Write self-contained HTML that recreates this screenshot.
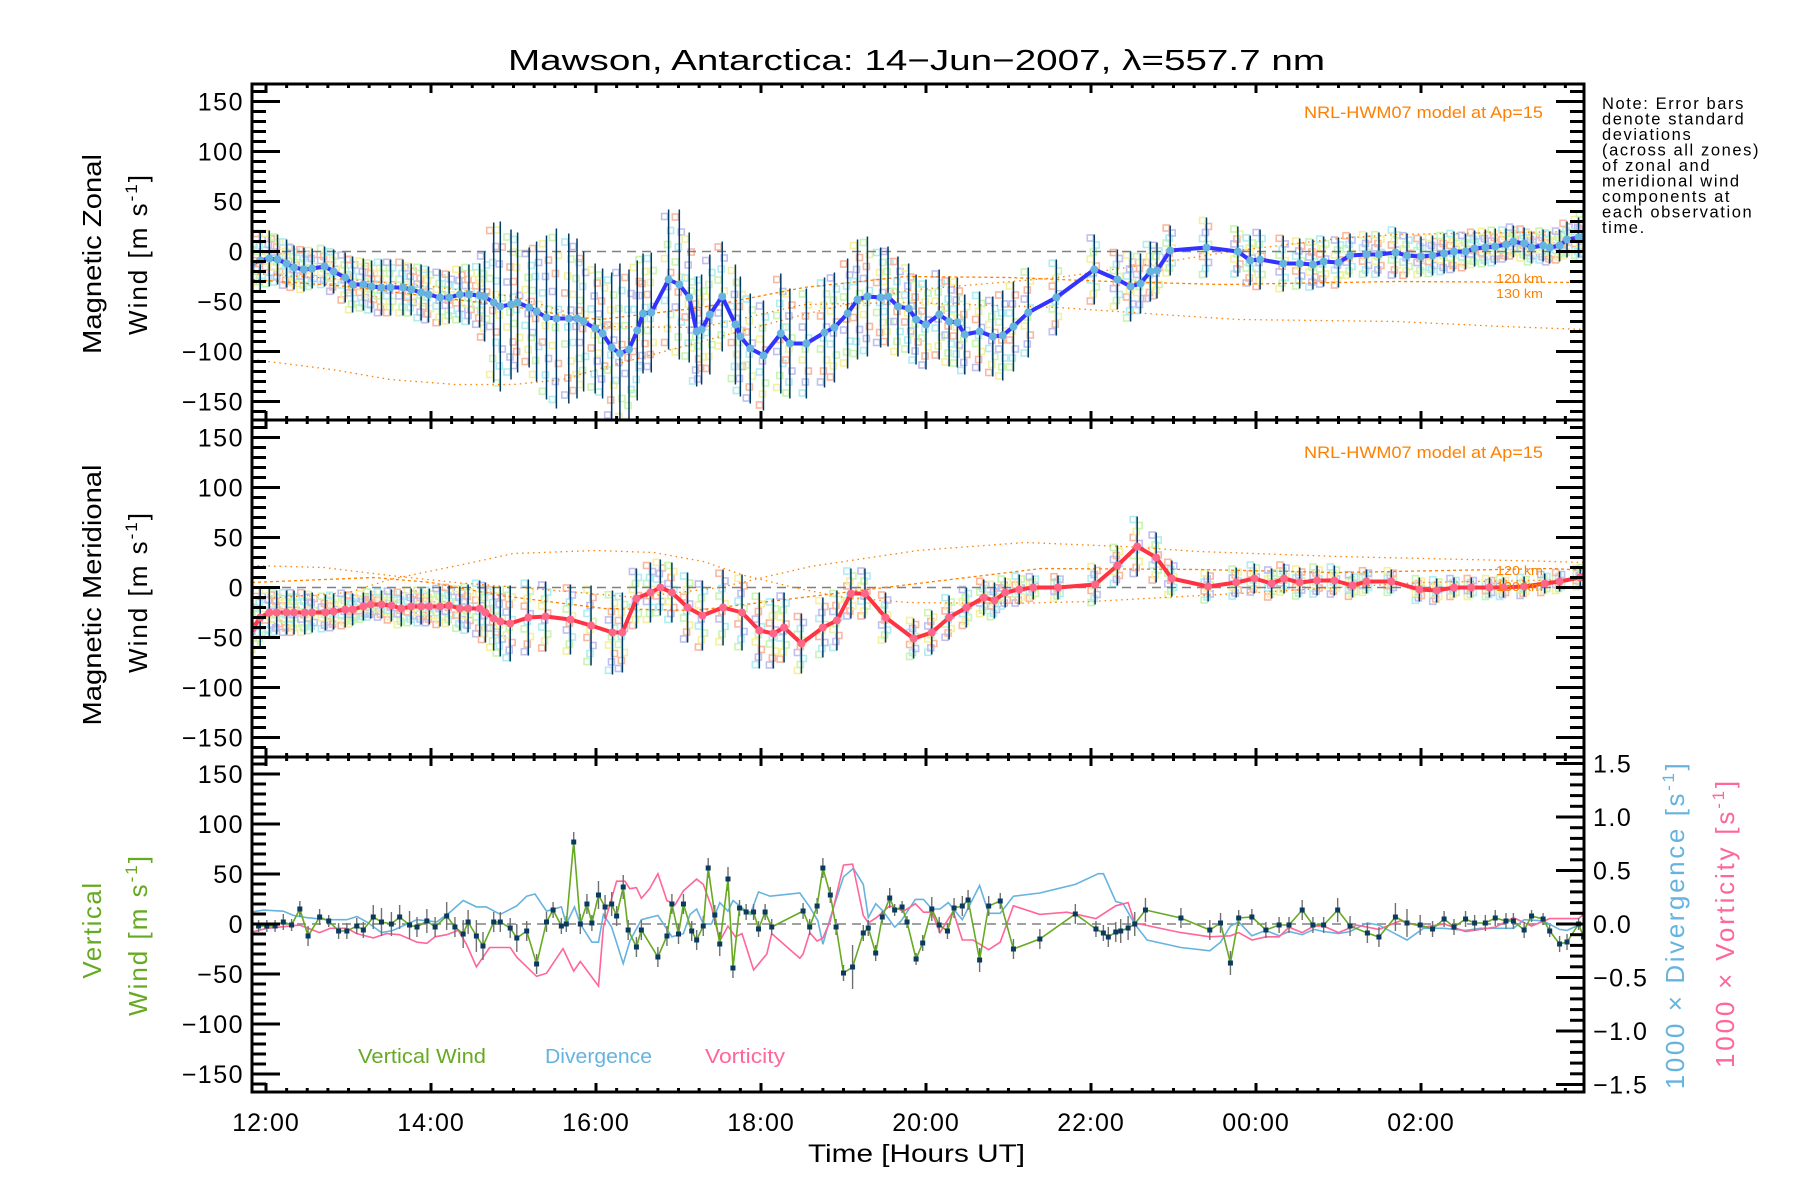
<!DOCTYPE html>
<html><head><meta charset="utf-8">
<style>
html,body{margin:0;padding:0;background:#fff;}
svg{display:block;font-family:"Liberation Sans",sans-serif;}
</style></head>
<body>
<svg id="chart" xmlns="http://www.w3.org/2000/svg" width="1800" height="1200" viewBox="0 0 1800 1200">
<rect x="0" y="0" width="1800" height="1200" fill="#fff"/>
<text x="508" y="70" font-size="29" textLength="817" lengthAdjust="spacingAndGlyphs">Mawson, Antarctica: 14−Jun−2007, λ=557.7 nm</text>
<g>
<text transform="translate(101,254) rotate(-90)" font-size="26" text-anchor="middle" textLength="200" lengthAdjust="spacingAndGlyphs">Magnetic Zonal</text>
<text transform="translate(147,254) rotate(-90)" font-size="26" text-anchor="middle" letter-spacing="2">Wind [m s<tspan font-size="17" dy="-10">-1</tspan><tspan dy="10">]</tspan></text>
</g>
<g>
<text transform="translate(101,595) rotate(-90)" font-size="26" text-anchor="middle" textLength="261" lengthAdjust="spacingAndGlyphs">Magnetic Meridional</text>
<text transform="translate(147,592) rotate(-90)" font-size="26" text-anchor="middle" letter-spacing="2">Wind [m s<tspan font-size="17" dy="-10">-1</tspan><tspan dy="10">]</tspan></text>
</g>
<g fill="#66aa22">
<text transform="translate(101,930) rotate(-90)" font-size="26" text-anchor="middle" letter-spacing="1.5">Vertical</text>
<text transform="translate(147,935) rotate(-90)" font-size="26" text-anchor="middle" letter-spacing="2">Wind [m s<tspan font-size="17" dy="-10">-1</tspan><tspan dy="10">]</tspan></text>
</g>
<text transform="translate(1684,925) rotate(-90)" font-size="26" text-anchor="middle" fill="#66b3e0" letter-spacing="2.6">1000 × Divergence [s<tspan font-size="17" dy="-10">-1</tspan><tspan dy="10">]</tspan></text>
<text transform="translate(1734,923) rotate(-90)" font-size="26" text-anchor="middle" fill="#ff6699" letter-spacing="2.8">1000 × Vorticity [s<tspan font-size="17" dy="-10">-1</tspan><tspan dy="10">]</tspan></text>
<g font-size="16.5" letter-spacing="1.6">
<text x="1602" y="109">Note: Error bars</text>
<text x="1602" y="124.5">denote standard</text>
<text x="1602" y="140">deviations</text>
<text x="1602" y="155.5">(across all zones)</text>
<text x="1602" y="171">of zonal and</text>
<text x="1602" y="186.5">meridional wind</text>
<text x="1602" y="202">components at</text>
<text x="1602" y="217.5">each observation</text>
<text x="1602" y="233">time.</text>
</g>
<text x="808" y="1162" font-size="25" textLength="217" lengthAdjust="spacingAndGlyphs">Time [Hours UT]</text>
<g id="plot"></g>
</svg>
<script>
// ---------------- data ----------------
const xTickLabels = ["12:00","14:00","16:00","18:00","20:00","22:00","00:00","02:00"];
const xTickHours = [12,14,16,18,20,22,24,26];
const windTickValues = [150,100,50,0,-50,-100,-150];
const rightTickValues = [1.5,1.0,0.5,0.0,-0.5,-1.0,-1.5];

const zonalTime = [11.83,11.93,12.04,12.14,12.25,12.34,12.46,12.56,12.71,12.82,12.96,13.05,13.18,13.28,13.40,13.51,13.66,13.76,13.88,13.97,14.11,14.22,14.35,14.46,14.59,14.65,14.76,14.84,14.97,15.05,15.19,15.28,15.40,15.52,15.67,15.77,15.85,15.99,16.08,16.19,16.29,16.40,16.50,16.57,
16.67,16.88,17.01,17.13,17.22,17.28,17.38,17.53,17.69,17.75,17.87,18.03,18.24,18.35,18.55,18.77,18.89,19.05,19.17,19.29,19.45,19.54,19.66,19.79,19.88,20.00,20.16,20.28,20.38,20.47,20.65,20.81,20.93,21.06,21.24,21.58,22.04,22.32,22.48,22.60,22.72,22.80,22.96,23.40,23.78,23.93,24.05,24.33,
24.53,24.69,24.82,25.00,25.14,25.34,25.49,25.69,25.83,26.00,26.14,26.28,26.40,26.54,26.65,26.78,26.90,27.03,27.12,27.25,27.34,27.48,27.56,27.68,27.77,27.91,27.97];
const zonalWind = [-12,-9,-7,-8,-12,-16,-18,-17,-15,-20,-26,-33,-33,-35,-36,-36,-36,-38,-41,-43,-46,-46,-43,-43,-44,-45,-51,-55,-53,-51,-56,-60,-66,-67,-67,-67,-70,-77,-82,-96,-102,-98,-79,-62,
-61,-28,-33,-46,-80,-78,-63,-45,-73,-85,-97,-104,-82,-92,-92,-81,-76,-62,-48,-45,-46,-45,-55,-57,-68,-73,-63,-70,-71,-83,-80,-85,-84,-75,-61,-46,-18,-28,-35,-32,-20,-19,1,4,0,-9,-8,-12,
-12,-13,-10,-11,-4,-3,-3,-1,-4,-5,-4,-2,0,0,3,4,5,7,10,8,4,6,4,6,12,14,15];
const zonalErr = [28,30,28,25,24,22,22,20,20,22,25,28,26,26,28,28,28,26,28,28,28,26,28,30,32,45,80,85,75,70,60,70,82,90,85,80,70,65,65,75,90,80,70,60,
60,70,75,65,55,55,60,55,60,60,55,55,60,55,55,55,55,55,60,60,50,50,50,45,45,45,45,45,45,40,40,40,45,45,45,38,35,30,35,30,30,28,25,30,25,25,30,28,
25,25,25,25,22,22,22,25,22,20,20,20,20,18,18,18,18,16,16,16,16,16,16,16,18,20,25];

const meridTime = [11.84,11.93,12.04,12.13,12.25,12.34,12.47,12.56,12.72,12.82,12.96,13.05,13.18,13.27,13.40,13.52,13.64,13.76,13.88,13.98,14.11,14.22,14.35,14.45,14.59,14.66,14.76,
14.84,14.96,15.18,15.39,15.69,15.94,16.20,16.32,16.49,16.66,16.78,16.92,17.11,17.29,17.54,17.77,17.98,18.15,18.28,18.49,18.75,18.92,19.09,19.26,19.51,19.85,20.07,20.28,20.49,20.70,20.83,20.96,21.13,21.30,21.60,22.05,22.32,22.56,22.79,22.98,23.42,23.76,23.98,24.19,24.34,24.53,24.74,24.95,25.17,25.34,25.64,25.98,26.19,26.40,26.61,26.83,27.00,27.25,27.50,27.68,27.93,27.98];
const meridWind = [-41,-30,-25,-25,-25,-25,-25,-25,-25,-24,-22,-22,-19,-17,-17,-18,-21,-19,-19,-19,-19,-18,-21,-21,-21,-25,-31,
-34,-36,-30,-29,-32,-38,-45,-45,-11,-5,0,-5,-20,-28,-20,-25,-43,-46,-40,-56,-40,-33,-6,-6,-30,-51,-45,-30,-20,-10,-13,-5,-2,0,0,3,22,41,30,9,1,5,9,4,9,5,7,7,2,6,6,-2,-3,0,0,0,0,1,4,6,10,11];
const meridErr = [30,30,25,22,22,22,22,20,18,18,18,16,14,14,14,16,18,18,18,18,20,20,22,24,28,30,32,
35,38,38,35,35,40,42,40,30,30,28,30,35,35,38,38,38,35,35,30,30,30,25,25,25,20,22,22,20,18,18,15,15,12,12,20,20,30,25,18,15,15,15,15,15,15,15,15,12,12,12,12,12,10,10,10,10,10,10,10,10,10];

const vertTime = [11.91,12.01,12.11,12.21,12.31,12.41,12.51,12.65,12.76,12.88,12.98,13.10,13.18,13.30,13.40,13.52,13.62,13.74,13.83,13.95,14.05,14.19,14.29,14.39,14.45,14.55,14.63,14.76,14.84,14.96,15.04,15.16,15.28,15.40,15.48,15.58,15.64,15.73,15.81,15.89,15.95,16.03,16.11,16.19,16.25,16.33,16.39,16.49,16.55,16.75,16.86,16.92,17.00,17.06,17.16,17.22,17.30,17.36,17.44,17.50,17.60,17.66,17.74,17.82,17.91,17.97,18.05,18.13,
18.51,18.59,18.68,18.75,18.84,18.91,19.00,19.11,19.24,19.30,19.39,19.47,19.56,19.62,19.71,19.77,19.88,19.96,20.07,20.16,20.26,20.34,20.44,20.51,20.65,20.76,20.90,21.06,21.38,21.81,22.06,22.15,22.21,22.30,22.36,22.45,22.53,22.66,23.09,23.44,23.57,23.69,23.79,23.95,24.12,24.28,24.40,24.56,
24.69,24.82,24.99,25.14,25.35,25.49,25.69,25.83,25.99,26.14,26.28,26.40,26.54,26.65,26.78,26.90,27.03,27.12,27.25,27.34,27.48,27.56,27.68,27.77,27.91,27.97];
const vertWind = [-2,-2,-2,2,-1,15,-12,7,3,-7,-7,-2,-6,7,2,0,7,-1,-3,3,-3,8,-3,-10,2,-12,-22,2,2,-4,-14,-7,-40,2,14,-2,0,82,0,20,1,29,17,20,8,37,-6,-23,-6,-33,-12,20,-10,20,-7,-16,-2,56,9,-20,45,-44,16,12,12,-5,12,-3,
13,-3,18,56,29,-3,-49,-43,-9,-4,-29,7,26,14,17,2,-35,-19,15,-1,-7,16,18,24,-36,18,23,-25,-15,10,-5,-9,-13,-8,-7,-4,0,14,6,-6,1,-39,6,7,-6,-1,-1,14,
-1,-1,14,-2,-9,-13,7,1,-1,-5,5,-3,5,1,1,6,3,3,-6,8,5,-7,-20,-18,0,-13];
const vertErr = [6,6,6,8,6,8,10,8,6,8,8,8,8,12,14,12,12,14,10,12,10,14,10,14,12,16,14,10,10,10,14,10,10,10,8,8,8,10,10,10,8,14,12,12,10,12,10,10,10,10,10,10,10,10,10,10,10,10,10,12,12,10,8,8,8,8,8,8,
8,8,8,10,8,8,8,22,8,8,8,6,10,6,6,6,6,8,12,8,8,10,10,10,12,10,8,10,10,10,8,8,10,10,12,12,12,12,10,10,10,12,8,8,8,8,8,10,
8,8,12,10,10,10,14,14,10,8,8,8,8,8,8,8,8,8,8,6,6,6,8,8,6,8];

const divTime = [11.81,11.97,12.21,12.33,12.49,12.73,12.98,13.10,13.22,13.40,13.54,13.83,14.07,14.23,14.39,14.55,14.67,14.84,15.04,15.16,15.26,15.40,15.58,15.64,15.74,15.81,15.95,16.03,16.09,16.19,16.33,16.41,16.55,16.75,16.92,17.06,17.14,17.22,17.30,17.40,17.50,17.60,17.66,17.87,17.97,18.11,
18.47,18.59,18.69,18.75,18.84,19.00,19.12,19.24,19.30,19.39,19.48,19.62,19.70,19.87,19.97,20.07,20.17,20.27,20.44,20.65,20.76,20.90,21.06,21.38,21.81,22.09,22.15,22.30,22.39,22.53,22.68,23.09,23.44,23.57,23.69,23.79,23.95,24.12,24.28,24.40,24.56,24.70,
24.82,25.00,25.14,25.35,25.49,25.83,26.03,26.28,26.54,26.72,27.12,27.25,27.48,27.68,27.77,27.97];
const divergence = [0.11,0.13,0.12,0.08,0.06,0.04,0.04,0.07,0.02,-0.08,-0.06,0.04,0.02,0.11,0.22,0.16,0.16,0.09,0.17,0.26,0.28,0.12,0.16,0,0.16,0,-0.17,-0.17,0.09,-0.03,-0.37,-0.16,0.04,0.08,-0.12,-0.09,0.09,0.14,0,0,0.2,0.12,0.22,0.09,0.3,0.26,
0.29,0.16,0.03,-0.19,0.06,0.44,0.52,0.37,0.06,0.19,0.12,-0.03,0.03,0.23,0.23,0.14,0.14,0.2,0.04,0.36,0.1,0.1,0.26,0.29,0.37,0.47,0.47,0.21,0.19,0,-0.15,-0.22,-0.25,-0.17,-0.02,0.02,-0.11,-0.06,-0.11,-0.07,-0.1,-0.05,
-0.07,-0.09,-0.07,0.01,-0.01,-0.15,-0.04,-0.04,-0.06,-0.04,-0.04,0.04,0.03,-0.05,-0.06,0.01];

const vortTime = [11.81,12.01,12.41,12.65,12.78,12.98,13.10,13.30,13.46,13.62,13.83,13.95,14.05,14.19,14.33,14.43,14.55,14.71,14.96,15.04,15.28,15.40,15.60,15.73,15.81,16.03,16.09,16.25,16.35,16.41,16.49,16.55,16.65,16.75,16.86,16.96,17.06,17.22,17.30,17.40,17.50,17.60,17.69,17.77,17.91,18.07,18.13,
18.47,18.51,18.59,18.68,18.75,18.84,19.00,19.11,19.24,19.30,19.40,19.56,19.73,19.87,19.97,20.07,20.17,20.33,20.44,20.57,20.76,20.90,21.06,21.38,21.71,22.06,22.30,22.45,22.53,23.09,23.44,23.69,23.79,23.95,24.12,24.28,24.40,24.56,24.70,
24.82,25.00,25.22,25.49,25.75,26.03,26.28,26.54,26.90,27.12,27.34,27.56,27.91,27.97];
const vorticity = [-0.08,-0.04,-0.01,-0.08,-0.04,-0.04,-0.09,-0.13,-0.09,-0.1,-0.17,-0.18,-0.12,-0.1,-0.06,-0.19,-0.4,-0.22,-0.22,-0.31,-0.49,-0.46,-0.23,-0.44,-0.35,-0.58,-0.03,0.4,0.4,0.33,0.34,0.24,0.33,0.47,0.22,0.18,0.31,0.42,0.37,0.16,-0.16,-0.02,-0.12,-0.09,-0.43,-0.28,-0.09,
-0.32,-0.28,-0.08,-0.16,-0.13,0.03,0.55,0.56,0.08,0.01,0.06,0.17,0.12,0.19,0.11,0.11,-0.08,0.12,-0.15,-0.15,-0.24,-0.17,0.17,0.09,0.11,0.05,0.17,0.2,0.01,-0.08,-0.12,-0.11,-0.08,-0.15,-0.12,-0.12,-0.03,-0.08,-0.02,
-0.02,-0.08,-0.01,-0.05,0.03,-0.03,0,-0.07,-0.03,0.06,-0.02,0.05,0.05,0.09];

// NRL-HWM07 model curves
const zModelTime = [11.83,12.8,13.5,14.3,15.0,15.6,16.05,17.28,18.52,19.76,21.6,22.85,23.78,25.0,25.7,27.0,28.0];
const zModelA = [-108,-118,-128,-133,-133,-128,-117,-90,-63,-39,-26,-11,1,13,17,19,20];
const zModelBTime = [11.83,13.0,14.0,15.0,15.7,16.05,17.28,18.52,19.76,21.0,22.23,23.6,25.7,28.0];
const zModelB = [-28,-35,-45,-55,-65,-68,-56,-36,-25,-26,-30,-33,-30,-31];
const zModelCTime = [11.83,13.0,14.0,15.0,15.7,16.05,17.28,18.52,19.76,21.6,22.85,23.78,25.7,27.0,28.0];
const zModelC = [-22,-28,-35,-45,-62,-75,-76,-53,-51,-56,-63,-68,-70,-75,-78];
const mModelATime = [11.83,13.0,13.5,14.5,15.0,16.0,16.7,17.3,17.8,18.4,19.0,19.8,21.0,22.0,24.0,26.0,28.0];
const mModelA = [-12,-5,8,25,34,37,35,26,12,0,-10,-15,-16,-14,-5,5,8];
const mModelBTime = [11.83,12.7,13.5,14.3,15.5,16.5,17.5,18.6,19.9,21.2,22.4,23.3,25.0,27.6,28.0];
const mModelB = [22,20,12,5,-3,-10,0,21,37,45,41,36,31,26,25];
const mModelCTime = [11.83,13.3,14.0,14.84,16.1,17.2,18.6,20.2,21.4,23.3,25.0,27.6,28.0];
const mModelC = [5,10,5,-8,-21,-23,-9,7,19,18,15,19,17];

// ---------------- scales ----------------
const X0 = 252, X1 = 1584;
const panelTop = [84, 420, 757];
const panelBot = [420, 757, 1092];
const panelZero = [251.5, 587.5, 924];
function xS(h){ return 266 + (h - 12) * 82.5; }
function yS(p, v){ return panelZero[p] - v; }
function yR(v){ return 924 - v * 107; }

const NS = "http://www.w3.org/2000/svg";
const plot = document.getElementById("plot");
function mk(tag, attrs, parent){
  const e = document.createElementNS(NS, tag);
  for (const k in attrs) e.setAttribute(k, attrs[k]);
  (parent || plot).appendChild(e);
  return e;
}
const defs = mk("defs", {});
for (let p = 0; p < 3; p++) {
  const cp = mk("clipPath", {id: "clip" + p}, defs);
  mk("rect", {x: X0, y: panelTop[p], width: X1 - X0, height: panelBot[p] - panelTop[p]}, cp);
}
function poly(times, vals, fy, attrs, parent, name){
  const pts = times.map((t, i) => xS(t).toFixed(1) + "," + fy(vals[i]).toFixed(1)).join(" ");
  const e = mk("polyline", Object.assign({points: pts, fill: "none"}, attrs), parent);
  
  
  return e;
}

// ---------------- panels 1 & 2 ----------------
const pastel = ["#f9b8a0", "#f5f0a0", "#c8f5b0", "#b0ecf0", "#c0c0ee"];
const spread = [-0.9, -0.7, -0.5, -0.3, -0.1, 0.1, 0.3, 0.5, 0.7, 0.9];
function windPanel(p, times, vals, errs, lineCol, mkCol, models, name){
  const g = mk("g", {"clip-path": "url(#clip" + p + ")"});
  
  
  const zg = mk("g", {}, g);
  
  
  times.forEach((t, i) => {
    spread.forEach((f, k) => {
      const r = mk("rect", {x: (xS(t) - 4 + ((k % 3) - 1) * 3).toFixed(1), y: (yS(p, vals[i] + errs[i] * f) - 3).toFixed(1), width: 6, height: 6, fill: "none", stroke: pastel[(k + i) % 5], "stroke-width": 1.6}, zg);
      
      
    });
  });
  const z = mk("line", {x1: X0, x2: X1, y1: yS(p, 0), y2: yS(p, 0), stroke: "#808080", "stroke-width": 1.5, "stroke-dasharray": "9,6"}, g);
  
  
  models.forEach((m, j) => {
    poly(m[0], m[1], v => yS(p, v), {stroke: "#ff8000", "stroke-width": 1.3, "stroke-dasharray": m[2]}, g, 'model-curve-' + m[3]);
  });
  times.forEach((t, i) => {
    const e = mk("line", {x1: xS(t), x2: xS(t), y1: yS(p, vals[i] - errs[i]), y2: yS(p, vals[i] + errs[i]), stroke: "#003a66", "stroke-width": 1.5}, g);
    
    
  });
  poly(times, vals, v => yS(p, v), {stroke: lineCol, "stroke-width": 4, "stroke-linejoin": "round"}, g, name + '-line');
  times.forEach((t, i) => {
    const c = mk("circle", {cx: xS(t), cy: yS(p, vals[i]), r: 4, fill: mkCol}, g);
    
    
  });
}
windPanel(0, zonalTime, zonalWind, zonalErr, "#3333ff", "#66b3e0",
  [[zModelTime, zModelA, "1.5,4", "zonal-130km-a"], [zModelBTime, zModelB, "3,3", "zonal-120km"], [zModelCTime, zModelC, "1.5,4", "zonal-130km"]], "zonal-wind");
windPanel(1, meridTime, meridWind, meridErr, "#ff3344", "#ff6688",
  [[mModelATime, mModelA, "1.5,4", "merid-a"], [mModelBTime, mModelB, "1.5,4", "merid-b"], [mModelCTime, mModelC, "3,3", "merid-c"]], "meridional-wind");

[[0, 118], [1, 458]].forEach(a => {
  const t = mk("text", {x: 1304, y: a[1], "font-size": 16.5, fill: "#ff8000", textLength: 239, lengthAdjust: "spacingAndGlyphs"});
  t.textContent = "NRL-HWM07 model at Ap=15";
  
  
});
[[283, "120 km"], [298, "130 km"], [575, "120 km"], [591, "130 km"]].forEach(a => {
  const t = mk("text", {x: 1496, y: a[0], "font-size": 12.5, fill: "#ff8000", textLength: 47, lengthAdjust: "spacingAndGlyphs"});
  t.textContent = a[1];
  
  
});

// ---------------- panel 3 ----------------
(function(){
  const p = 2;
  const g = mk("g", {"clip-path": "url(#clip2)"});
  
  
  const z = mk("line", {x1: X0, x2: X1, y1: yS(p, 0), y2: yS(p, 0), stroke: "#808080", "stroke-width": 1.5, "stroke-dasharray": "9,6"}, g);
  
  
  poly(divTime, divergence, yR, {stroke: "#66b3e0", "stroke-width": 1.6}, g, 'divergence-line');
  poly(vortTime, vorticity, yR, {stroke: "#ff6699", "stroke-width": 1.6}, g, 'vorticity-line');
  vertTime.forEach((t, i) => {
    const e = mk("line", {x1: xS(t), x2: xS(t), y1: yS(p, vertWind[i] - vertErr[i]), y2: yS(p, vertWind[i] + vertErr[i]), stroke: "#707070", "stroke-width": 1.4}, g);
    
    
  });
  poly(vertTime, vertWind, v => yS(p, v), {stroke: "#66aa22", "stroke-width": 1.6}, g, 'vertical-wind-line');
  vertTime.forEach((t, i) => {
    const r = mk("rect", {x: xS(t) - 2.5, y: yS(p, vertWind[i]) - 2.5, width: 5, height: 5, fill: "#0a3a60"}, g);
    
    
  });
  [["Vertical Wind", 358, "#66aa22", "legend-vertical-wind", 128], ["Divergence", 545, "#66b3e0", "legend-divergence", 107], ["Vorticity", 705, "#ff6699", "legend-vorticity", 80]].forEach(l => {
    const t = mk("text", {x: l[1], y: 1063, "font-size": 20, fill: l[2], textLength: l[4], lengthAdjust: "spacingAndGlyphs"});
    t.textContent = l[0];
    
    
  });
})();

// ---------------- axes ----------------
for (let p = 0; p < 3; p++) {
  const ag = mk("g", {stroke: "#000", "stroke-width": 3, fill: "none"});
  
  
  const fr = mk("rect", {x: X0, y: panelTop[p], width: X1 - X0, height: panelBot[p] - panelTop[p]}, ag);
  
  
  for (let m = 0; m * 0.25 + 11.75 <= 28.0; m++) {
    const h = 11.75 + m * 0.25;
    const x = xS(h);
    if (x < X0 || x > X1) continue;
    const major = Math.abs(h / 2 - Math.round(h / 2)) < 1e-6;
    const L = major ? 9 : 4;
    mk("line", {x1: x, x2: x, y1: panelTop[p], y2: panelTop[p] + L}, ag);
    mk("line", {x1: x, x2: x, y1: panelBot[p], y2: panelBot[p] - L}, ag);
  }
  for (let v = -160; v <= 160; v += 10) {
    const y = yS(p, v);
    if (y < panelTop[p] + 1 || y > panelBot[p] - 1) continue;
    const L = v % 50 === 0 ? 28 : 14;
    mk("line", {x1: X0, x2: X0 + L, y1: y, y2: y}, ag);
    if (p < 2) mk("line", {x1: X1, x2: X1 - L, y1: y, y2: y}, ag);
  }
  if (p === 2) {
    for (let k = -15; k <= 15; k++) {
      const y = yR(k / 10);
      const L = k % 5 === 0 ? 28 : 14;
      mk("line", {x1: X1, x2: X1 - L, y1: y, y2: y}, ag);
    }
  }
  windTickValues.forEach(v => {
    const t = mk("text", {x: 244, y: yS(p, v) + 9, "font-size": 25, "text-anchor": "end", "letter-spacing": 1.5});
    t.textContent = (v < 0 ? "−" : "") + Math.abs(v);
    
    
  });
}
rightTickValues.forEach(v => {
  const t = mk("text", {x: 1593, y: yR(v) + 9, "font-size": 25, "letter-spacing": 1.5});
  t.textContent = (v < 0 ? "−" : "") + Math.abs(v).toFixed(1);
  
  
});
xTickHours.forEach((h, i) => {
  const t = mk("text", {x: xS(h), y: 1131, "font-size": 25, "text-anchor": "middle", "letter-spacing": 1});
  t.textContent = xTickLabels[i];
  
  
});
</script>
</body></html>
